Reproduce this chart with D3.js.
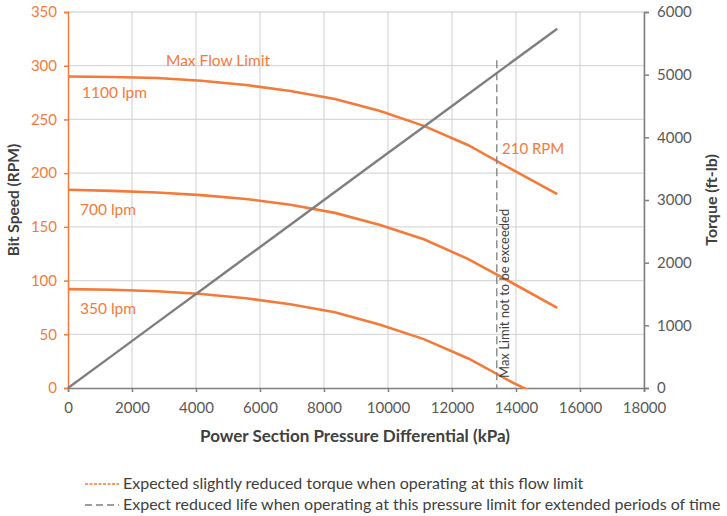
<!DOCTYPE html>
<html>
<head>
<meta charset="utf-8">
<script src="https://cdn.jsdelivr.net/npm/d3@7"></script>
<style>
  body { margin: 0; background: #fff; }
  text { font-family: Lato, "Open Sans", sans-serif; }
</style>
</head>
<body>
<svg id="chart" width="727" height="516"></svg>
<script>
// values
var pressure = [0, 1390, 2780, 4170, 5560, 6950, 8340, 9730, 11120, 12510, 13900, 15290];
var rpm1100 = [290, 289.5, 288.5, 286, 282, 276.5, 269, 258, 244, 226, 203, 180.5];
var rpm700  = [184.5, 183.5, 182, 179.5, 176, 170.5, 163, 152, 138.5, 120, 97.5, 74.5];
var rpm350  = [92, 91.5, 90, 87.5, 83.5, 78, 70.5, 59, 45.5, 27.5, 5, -15];
var torque  = [0, 521, 1043, 1564, 2085, 2606, 3128, 3649, 4170, 4691, 5213, 5734];

var flowLabels = ["1100 lpm", "700 lpm", "350 lpm"];
var maxLimitPressure = 13400, maxLimitTop = 305;

var xTicks = [0, 2000, 4000, 6000, 8000, 10000, 12000, 14000, 16000, 18000];
var yTicks = [0, 50, 100, 150, 200, 250, 300, 350];
var y2Ticks = [0, 1000, 2000, 3000, 4000, 5000, 6000];

var legendItems = [
  "Expected slightly reduced torque when operating at this flow limit",
  "Expect reduced life when operating at this pressure limit for extended periods of time"
];

var margin = {top: 12, right: 83, bottom: 128, left: 68},
    width = 727 - margin.left - margin.right,
    height = 516 - margin.top - margin.bottom,
    orange = "#f47a3a",
    grayLine = "#7f7f7f",
    textGray = "#595959",
    titleGray = "#404040";

var svg = d3.select("#chart");
var g = svg.append("g").attr("transform", "translate(" + margin.left + "," + margin.top + ")");

var x = d3.scaleLinear().domain([0, 18000]).range([0, width]);
var y = d3.scaleLinear().domain([0, 350]).range([height, 0]);
var y2 = d3.scaleLinear().domain([0, 6000]).range([height, 0]);

// grid
g.selectAll(".vgrid").data(xTicks.slice(1)).enter().append("line")
  .attr("x1", x).attr("x2", x).attr("y1", 0).attr("y2", height)
  .attr("stroke", "#d9d9d9").attr("stroke-width", 1.3);
g.selectAll(".hgrid").data(yTicks.slice(1)).enter().append("line")
  .attr("x1", 0).attr("x2", width).attr("y1", y).attr("y2", y)
  .attr("stroke", "#d9d9d9").attr("stroke-width", 1.3);

// axes: minor ticks point inward, major ticks outward
var xAxis = g.append("g").attr("transform", "translate(0," + height + ")")
  .call(d3.axisBottom(x).tickValues(d3.range(0, 18001, 200)).tickSize(-4).tickFormat(""));
xAxis.call(d3.axisBottom(x).tickValues(xTicks).tickSize(4).tickPadding(10).tickFormat(d3.format("d")));
xAxis.selectAll("path, line").attr("stroke", grayLine).attr("stroke-width", 1.5);
xAxis.selectAll("text").attr("fill", textGray).style("font-size", "15px");

var yAxis = g.append("g")
  .call(d3.axisLeft(y).tickValues(d3.range(0, 351, 5)).tickSize(-4).tickFormat(""));
yAxis.call(d3.axisLeft(y).tickValues(yTicks).tickSize(4).tickPadding(7));
yAxis.selectAll("path, line").attr("stroke", orange).attr("stroke-width", 1.5);
yAxis.selectAll("text").attr("fill", orange).style("font-size", "15px");

var y2Axis = g.append("g").attr("transform", "translate(" + width + ",0)")
  .call(d3.axisRight(y2).tickValues(d3.range(0, 6001, 200)).tickSize(-4).tickFormat(""));
y2Axis.call(d3.axisRight(y2).tickValues(y2Ticks).tickSize(5).tickPadding(8).tickFormat(d3.format("d")));
y2Axis.selectAll("path, line").attr("stroke", grayLine).attr("stroke-width", 1.5);
y2Axis.selectAll("text").attr("fill", textGray).style("font-size", "15px");

// axis titles
svg.append("text").attr("transform", "translate(19," + (margin.top + height / 2) + ") rotate(-90)")
  .attr("text-anchor", "middle").attr("fill", titleGray).style("font-weight", "bold").style("font-size", "15.5px")
  .text("Bit Speed (RPM)");
svg.append("text").attr("transform", "translate(717," + (margin.top + height / 2) + ") rotate(-90)")
  .attr("text-anchor", "middle").attr("fill", titleGray).style("font-weight", "bold").style("font-size", "16px")
  .text("Torque (ft-lb)");
svg.append("text").attr("x", 355).attr("y", 442)
  .attr("text-anchor", "middle").attr("fill", titleGray).style("font-weight", "bold").style("font-size", "17px")
  .text("Power Section Pressure Differential (kPa)");

// lines
svg.append("clipPath").attr("id", "plotClip").append("rect")
  .attr("x", -2).attr("y", -2).attr("width", width + 4).attr("height", height + 3);

var rpmLine = function(vals) {
  return d3.line().x(function(d, i) { return x(pressure[i]); }).y(function(d) { return y(d); })(vals);
};
var plot = g.append("g").attr("clip-path", "url(#plotClip)");

[rpm1100, rpm700, rpm350].forEach(function(s) {
  plot.append("path").attr("d", rpmLine(s))
    .attr("fill", "none").attr("stroke", orange).attr("stroke-width", 2.6);
});

plot.append("path")
  .attr("d", d3.line().x(function(d, i) { return x(pressure[i]); }).y(function(d) { return y2(d); })(torque))
  .attr("fill", "none").attr("stroke", grayLine).attr("stroke-width", 2.4);

// max pressure limit
g.append("line")
  .attr("x1", x(maxLimitPressure)).attr("x2", x(maxLimitPressure))
  .attr("y1", y(maxLimitTop)).attr("y2", height)
  .attr("stroke", grayLine).attr("stroke-width", 1.3).attr("stroke-dasharray", "8,4");
g.append("text")
  .attr("transform", "translate(" + (x(maxLimitPressure) + 12) + "," + (height - 10) + ") rotate(-90)")
  .attr("fill", titleGray).style("font-size", "13px")
  .text("Max Limit not to be exceeded");

// annotations
var labelPos = [[14, 98], [12, 215], [12, 314]];
flowLabels.forEach(function(t, i) {
  svg.append("text").attr("x", margin.left + labelPos[i][0]).attr("y", labelPos[i][1])
    .attr("fill", orange).style("font-size", "15.5px").text(t);
});
svg.append("text").attr("x", 166).attr("y", 66).attr("fill", orange).style("font-size", "15.5px").text("Max Flow Limit");
svg.append("text").attr("x", 502).attr("y", 154).attr("fill", orange).style("font-size", "15px").text("210 RPM");

// legend
var legend = svg.append("g").attr("transform", "translate(85,484)");
legendItems.forEach(function(t, i) {
  legend.append("line").attr("x1", 0).attr("x2", 34).attr("y1", i * 21).attr("y2", i * 21)
    .attr("stroke", i == 0 ? orange : grayLine).attr("stroke-width", 1.3)
    .attr("stroke-dasharray", i == 0 ? "3,1.5" : "7,4");
  legend.append("text").attr("x", 38).attr("y", i * 21 + 5)
    .attr("fill", titleGray).style("font-size", "16px").text(t);
});
</script>
</body>
</html>
